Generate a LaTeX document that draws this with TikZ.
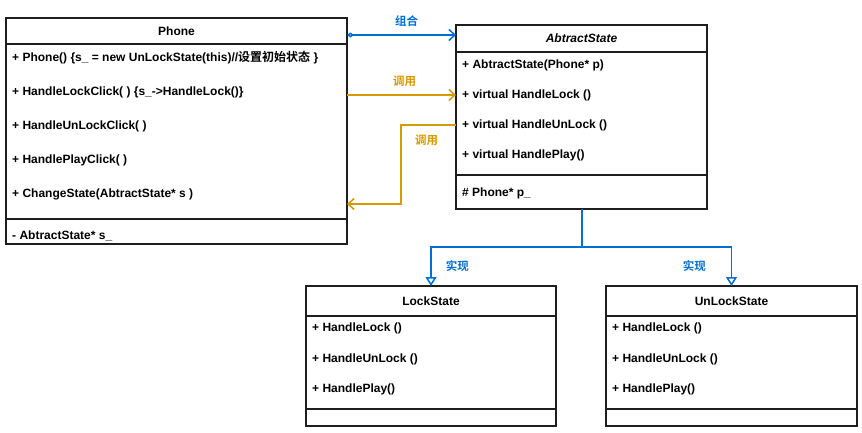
\documentclass[tikz,border=0pt]{standalone}
\usepackage{fontspec}
\setmainfont{Liberation Sans}
\newfontfamily\cjk{Noto Sans CJK SC}[BoldFont=* Bold]
\usetikzlibrary{arrows.meta,positioning}

\definecolor{umlblue}{RGB}{0,110,210}
\definecolor{umlorange}{RGB}{215,155,0}
\definecolor{umlline}{RGB}{30,30,30}

\tikzset{
  classhead/.style={draw=umlline, line width=1.5pt, outer sep=0pt, inner sep=0pt,
    font=\fontsize{12}{14}\selectfont\bfseries},
  classpart/.style={draw=umlline, line width=1.5pt, outer sep=0pt, inner sep=0pt},
  member/.style={anchor=west, inner sep=0pt, font=\fontsize{12}{14}\selectfont\bfseries},
  tag/.style={inner sep=0pt, font=\fontsize{11.5}{13}\selectfont\bfseries\cjk},
  compose/.style={umlblue, line width=1.5pt, {Diamond[open,length=7pt,width=5pt]}-{Straight Barb[length=6pt,width=11pt]}},
  call/.style={umlorange, line width=1.5pt, -{Straight Barb[length=6pt,width=11pt]}},
  realize/.style={umlblue, line width=1.5pt, -{Triangle[open,length=9pt,width=11pt]}}
}

\begin{document}
\begin{tikzpicture}[x=1pt,y=-1pt]
  \useasboundingbox (0,0) rectangle (862,432);

  % Phone
  \node[classhead, minimum width=341pt, minimum height=26pt] (phonehead) at (176.5,31) {Phone};
  \node[classpart, minimum width=341pt, minimum height=175pt, below=0pt of phonehead] (phonebody) {};
  \node[classpart, minimum width=341pt, minimum height=25pt, below=0pt of phonebody] (phonefields) {};
  \node[member] (phoneA) at (12,58) {+ Phone() \{s\_ = new UnLockState(this)//{\cjk 设置初始状态} \}};
  \node[member] (phoneB) at (12,92) {+ HandleLockClick( ) \{s\_->HandleLock()\}};
  \node[member] (phoneC) at (12,126) {+ HandleUnLockClick( )};
  \node[member] (phoneD) at (12,160) {+ HandlePlayClick( )};
  \node[member] (phoneE) at (12,194) {+ ChangeState(AbtractState* s )};
  \node[member] (phoneF) at (12,236) {- AbtractState* s\_};

  % AbtractState
  \node[classhead, minimum width=251pt, minimum height=27pt] (statehead) at (581.5,38.5) {\itshape AbtractState};
  \node[classpart, minimum width=251pt, minimum height=123pt, below=0pt of statehead] (statebody) {};
  \node[classpart, minimum width=251pt, minimum height=34pt, below=0pt of statebody] (statefields) {};
  \node[member] (stateA) at (462,65) {+ AbtractState(Phone* p)};
  \node[member] (stateB) at (462,95) {+ virtual HandleLock ()};
  \node[member] (stateC) at (462,125) {+ virtual HandleUnLock ()};
  \node[member] (stateD) at (462,155) {+ virtual HandlePlay()};
  \node[member] (stateE) at (462,193) {\# Phone* p\_};

  % LockState
  \node[classhead, minimum width=250pt, minimum height=30pt] (lockhead) at (431,301) {LockState};
  \node[classpart, minimum width=250pt, minimum height=93pt, below=0pt of lockhead] (lockbody) {};
  \node[classpart, minimum width=250pt, minimum height=17pt, below=0pt of lockbody] (lockfields) {};
  \node[member] (lockA) at (312,328) {+ HandleLock ()};
  \node[member] (lockB) at (312,359) {+ HandleUnLock ()};
  \node[member] (lockC) at (312,389) {+ HandlePlay()};

  % UnLockState
  \node[classhead, minimum width=251pt, minimum height=30pt] (unlockhead) at (731.5,301) {UnLockState};
  \node[classpart, minimum width=251pt, minimum height=93pt, below=0pt of unlockhead] (unlockbody) {};
  \node[classpart, minimum width=251pt, minimum height=17pt, below=0pt of unlockbody] (unlockfields) {};
  \node[member] (unlockA) at (612,328) {+ HandleLock ()};
  \node[member] (unlockB) at (612,359) {+ HandleUnLock ()};
  \node[member] (unlockC) at (612,389) {+ HandlePlay()};

  % connectors
  \coordinate (ownstart) at ([yshift=-4pt]phonehead.east);
  \draw[compose] (ownstart) -- node[tag, midway, above=8pt, xshift=5pt] {组合} (ownstart -| statehead.west);

  \draw[call] (phonebody.east |- stateB) -- node[tag, midway, above=8pt, xshift=3pt] {调用} (statebody.west |- stateB);

  \coordinate (backin) at (phonebody.east |- phoneE);
  \draw[call] (statebody.west |- stateC) -- node[tag, midway, below=9pt, xshift=-2pt] {调用} ++(-55,0)
    |- ([yshift=-10pt]backin);

  \coordinate (trunk) at ([xshift=0.5pt]statefields.south);
  \draw[realize] (trunk) -- ++(0,38) -| node[tag, pos=0.75, right=14pt] {实现} (lockhead.north);
  \draw[realize] (trunk) -- ++(0,38) -| node[tag, pos=0.75, left=25pt] {实现} (unlockhead.north);
\end{tikzpicture}
\end{document}
